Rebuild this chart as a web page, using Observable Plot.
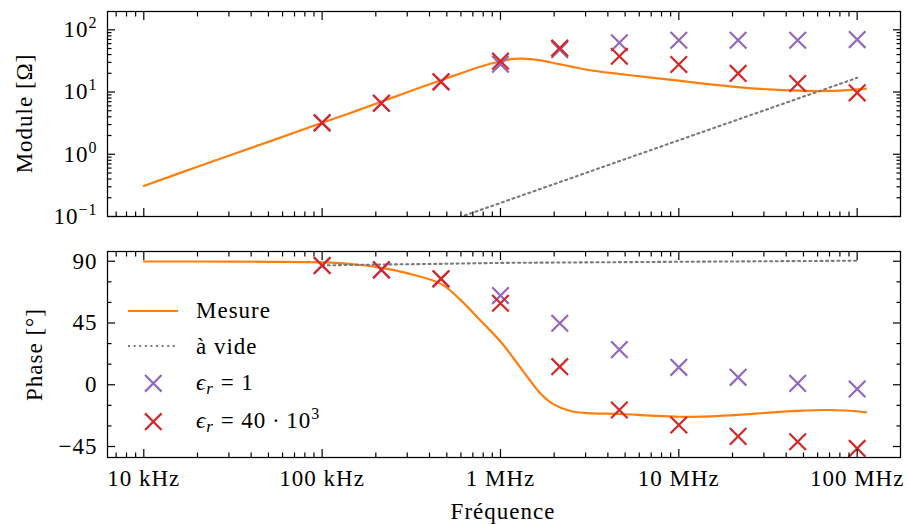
<!DOCTYPE html>
<html>
<head>
<meta charset="utf-8">
<script src="https://cdn.jsdelivr.net/npm/d3@7"></script>
<script src="https://cdn.jsdelivr.net/npm/@observablehq/plot@0.6"></script>
<style>
  html, body { margin: 0; padding: 0; background: #fff; }
  #chart { position: relative; width: 908px; height: 524px; overflow: hidden; }
  #chart svg { display: block; }
</style>
</head>
<body>
<div id="chart"></div>
<script>
// ---------------- data ----------------
const freqMarkers = [1e5, 2.15e5, 4.64e5, 1e6, 2.15e6, 4.64e6, 1e7, 2.15e7, 4.64e7, 1e8];
const modEr1      = [3.2, 6.6, 14.6, 28, 48, 62, 68, 68, 68, 69.6];
const modEr40k    = [3.2, 6.6, 14.6, 31.3, 51, 37.6, 27.7, 19.9, 13.7, 9.7];
const phaseEr1    = [86.9, 83.7, 77.2, 65, 44.8, 25.6, 12.7, 5.4, 1.0, -3.1];
const phaseEr40k  = [86.9, 83.7, 77.2, 59.4, 13.2, -18.4, -29.3, -37.6, -41.5, -46.4];

const freqMesure  = [1e4, 2e4, 5e4, 1e5, 1.5e5, 2.15e5, 3e5, 4.64e5, 6e5, 7.7e5, 1e6, 1.18e6, 1.42e6,
                     1.68e6, 2e6, 2.5e6, 3.1e6, 4.7e6, 7e6, 1e7, 1.5e7, 2.15e7, 3.2e7, 4.64e7, 7e7, 1e8, 1.12e8];
const modMesure   = [0.31, 0.63, 1.58, 3.2, 4.8, 7.0, 9.9, 15.5, 20, 25.5, 31.2, 34, 34.2,
                     32.2, 29.2, 25.6, 22.6, 19.4, 17, 15.2, 13.3, 12, 11, 10.5, 10.4, 11, 11.3];
const phaseMesure = [89.8, 89.8, 89.6, 89.2, 87.8, 85.2, 81.3, 73.5, 61.5, 47, 31.5, 19.5, 5.5,
                     -6.5, -14.5, -19.3, -20.6, -21.3, -22.5, -23.3, -23, -22, -20.3, -19, -18.4, -19.3, -20.1];

const freqVide    = [1e5, 2.15e5, 4.64e5, 1e6, 1e7, 1e8];
const modVide     = [0.0165, 0.0355, 0.0765, 0.165, 1.68, 16.9];
const phaseVide   = [87, 87.6, 88.1, 88.8, 89.6, 90.4];

const xTicks      = [1e4, 1e5, 1e6, 1e7, 1e8];
const xTickLabels = ["10 kHz", "100 kHz", "1 MHz", "10 MHz", "100 MHz"];
const modTicks    = [0.1, 1, 10, 100];
const modTickExp  = ["−1", "0", "1", "2"];
const phaseTicks  = [-45, 0, 45, 90];
const phaseMinor  = [-30, -15, 15, 30, 60, 75];

const seriesNames = ["Mesure", "à vide", "ϵr = 1", "ϵr = 40·10³"];

// ---------------- styling ----------------
const ORANGE = "#ff7f0e", GRAY = "#7a7a7a", PURPLE = "#9467bd", RED = "#d62728";
const FONT = "Liberation Serif";
const FS = 23;

// rows built from the arrays
const mesureRows = freqMesure.map((f, i) => ({f, mod: modMesure[i], phase: phaseMesure[i]}));
const videRows   = freqVide.map((f, i) => ({f, mod: modVide[i], phase: phaseVide[i]}));
const er1Rows    = freqMarkers.map((f, i) => ({f, mod: modEr1[i], phase: phaseEr1[i]}));
const er40Rows   = freqMarkers.map((f, i) => ({f, mod: modEr40k[i], phase: phaseEr40k[i]}));

const xDomain = [Math.pow(10, 3.7965), Math.pow(10, 8.243)];

// minor log ticks (2..9 per decade) inside a domain
function logMinor([lo, hi]) {
  const out = [];
  for (let e = Math.floor(Math.log10(lo)); e <= Math.ceil(Math.log10(hi)); e++)
    for (let m = 2; m <= 9; m++) { const v = m * Math.pow(10, e); if (v >= lo && v <= hi) out.push(v); }
  return out;
}
const xMinor = logMinor(xDomain);
const modDomain = [0.1, Math.pow(10, 2.294)];
const modMinor = logMinor(modDomain);

function tickMarks(xMaj, xMin, yMaj, yMin) {
  const o = {fill: "none", label: null, strokeWidth: 1.2, stroke: "black"};
  return [
    Plot.axisX(xMaj, {...o, anchor: "bottom", tickSize: -8}),
    Plot.axisX(xMaj, {...o, anchor: "top", tickSize: -8}),
    Plot.axisX(xMin, {...o, anchor: "bottom", tickSize: -4.5}),
    Plot.axisX(xMin, {...o, anchor: "top", tickSize: -4.5}),
    Plot.axisY(yMaj, {...o, anchor: "left", tickSize: -8}),
    Plot.axisY(yMaj, {...o, anchor: "right", tickSize: -8}),
    Plot.axisY(yMin, {...o, anchor: "left", tickSize: -4.5}),
    Plot.axisY(yMin, {...o, anchor: "right", tickSize: -4.5})
  ];
}

const dataMarks = (key) => [
  Plot.line(mesureRows, {x: "f", y: key, stroke: ORANGE, strokeWidth: 2.2, curve: "catmull-rom"}),
  Plot.line(videRows, {x: "f", y: key, stroke: GRAY, strokeWidth: 2.1, strokeDasharray: "2,3.6", clip: true}),
  Plot.dot(er1Rows, {x: "f", y: key, symbol: "times", r: 7.6, stroke: PURPLE, strokeWidth: 2.2, fill: "none"}),
  Plot.dot(er40Rows, {x: "f", y: key, symbol: "times", r: 7.6, stroke: RED, strokeWidth: 2.2, fill: "none"})
];

const style = {fontFamily: FONT, fontSize: FS + "px", color: "black", background: "white"};

// ---------------- top panel: module ----------------
const topPlot = Plot.plot({
  width: 908, height: 240,
  marginTop: 11, marginBottom: 24, marginLeft: 107, marginRight: 8,
  style,
  x: {type: "log", domain: xDomain, axis: null},
  y: {type: "log", domain: modDomain, axis: null},
  marks: [
    ...dataMarks("mod"),
    ...tickMarks(xTicks, xMinor, modTicks, modMinor),
    Plot.axisY(modTicks, {anchor: "left", tickSize: 0, tickPadding: 10, label: null,
      fontSize: FS, fontFamily: FONT,
      tickFormat: d => "10^" + modTickExp[modTicks.indexOf(d)]}),
    Plot.frame({stroke: "black", strokeWidth: 1.25})
  ]
});

// ---------------- bottom panel: phase ----------------
const botPlot = Plot.plot({
  width: 908, height: 284,
  marginTop: 11, marginBottom: 67, marginLeft: 107, marginRight: 8,
  style,
  x: {type: "log", domain: xDomain, axis: null},
  y: {domain: [-53, 97.1], axis: null},
  marks: [
    ...dataMarks("phase"),
    ...tickMarks(xTicks, xMinor, phaseTicks, phaseMinor),
    Plot.axisY(phaseTicks, {anchor: "left", tickSize: 0, tickPadding: 10, label: null,
      fontSize: FS, fontFamily: FONT,
      tickFormat: d => (d < 0 ? "−" + Math.abs(d) : String(d))}),
    Plot.axisX(xTicks, {anchor: "bottom", tickSize: 0, tickPadding: 12, label: null,
      fontSize: FS, fontFamily: FONT,
      tickFormat: d => xTickLabels[xTicks.indexOf(d)]}),
    Plot.frame({stroke: "black", strokeWidth: 1.25})
  ]
});

const chart = document.getElementById("chart");
chart.appendChild(topPlot);
chart.appendChild(botPlot);

// superscript exponents on the log axis labels
d3.select(topPlot).selectAll("g[aria-label='y-axis tick label'] text").each(function () {
  const t = d3.select(this);
  const s = t.text();
  if (!s.includes("^")) return;
  const [base, exp] = s.split("^");
  t.text(null);
  t.append("tspan").text(base);
  t.append("tspan").attr("font-size", 16).attr("dy", "-9").text(exp);
});

// axis titles
d3.select(topPlot).append("text")
  .attr("transform", "translate(32,113.5) rotate(-90)")
  .attr("text-anchor", "middle").attr("font-size", FS).attr("fill", "black")
  .text("Module [Ω]");
d3.select(botPlot).append("text")
  .attr("transform", "translate(42,114.5) rotate(-90)")
  .attr("text-anchor", "middle").attr("font-size", FS).attr("fill", "black")
  .text("Phase [°]");
d3.select(botPlot).append("text")
  .attr("x", 503).attr("y", 279)
  .attr("text-anchor", "middle").attr("font-size", FS).attr("fill", "black")
  .text("Fréquence");

// legend (bottom panel, upper left)
const lg = d3.select(botPlot).append("g").attr("font-size", FS).attr("fill", "black")
  .attr("text-anchor", "start");
const rowsY = [71, 106, 143.3, 181.7];
lg.append("line").attr("x1", 128).attr("x2", 178).attr("y1", rowsY[0]).attr("y2", rowsY[0])
  .attr("stroke", ORANGE).attr("stroke-width", 2.2);
lg.append("line").attr("x1", 128).attr("x2", 178).attr("y1", rowsY[1]).attr("y2", rowsY[1])
  .attr("stroke", GRAY).attr("stroke-width", 2.1).attr("stroke-dasharray", "2,3.6");
const timesPath = d3.symbol(d3.symbolTimes, 7.6 * 7.6 * Math.PI)();
lg.append("path").attr("d", timesPath).attr("transform", `translate(153.3,${rowsY[2]})`)
  .attr("stroke", PURPLE).attr("stroke-width", 2.2).attr("fill", "none");
lg.append("path").attr("d", timesPath).attr("transform", `translate(153.3,${rowsY[3]})`)
  .attr("stroke", RED).attr("stroke-width", 2.2).attr("fill", "none");
const tx = 196;
lg.append("text").attr("x", tx).attr("y", 78.3).text(seriesNames[0]);
lg.append("text").attr("x", tx).attr("y", 114).text(seriesNames[1]);
function epsLabel(y, rest, sup) {
  const t = lg.append("text").attr("x", tx).attr("y", y);
  t.append("tspan").attr("font-style", "italic").text("ϵ");
  t.append("tspan").attr("font-style", "italic").attr("font-size", 17).attr("dy", 4).text("r");
  t.append("tspan").attr("dy", -4).text(" = " + rest);
  if (sup) t.append("tspan").attr("font-size", 16).attr("dy", -9).text(sup);
}
epsLabel(150, "1");
epsLabel(188.3, "40\u2009·\u200910", "3");

// force the serif family (slightly tracked, like the reference) on every text element
for (const svg of [topPlot, botPlot]) {
  d3.select(svg).attr("font-family", FONT).style("font-family", "'Liberation Serif'");
  d3.select(svg).selectAll("text").attr("font-family", FONT)
    .style("font-family", "'Liberation Serif'").style("letter-spacing", "1px");
}
</script>
</body>
</html>
